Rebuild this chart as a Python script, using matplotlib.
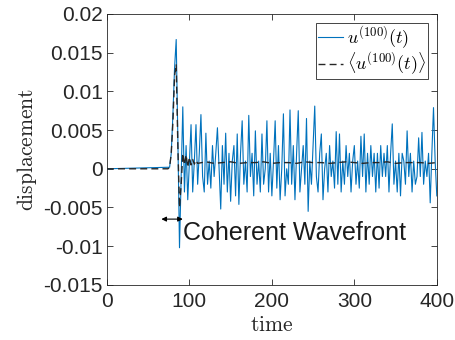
import numpy as np
import matplotlib
matplotlib.use('Agg')
import matplotlib.pyplot as plt
from matplotlib.ticker import FixedLocator, FixedFormatter

plt.rcParams['font.family'] = ['Liberation Sans', 'DejaVu Sans']
plt.rcParams['mathtext.fontset'] = 'cm'

t_u = np.concatenate([[0], np.arange(76, 401, 2)])
u = [0.0,
     0.0002, 0.002, 0.007, 0.013, 0.0167, 0.004, -0.0102, -0.001, 0.008, -0.003,
     0.003, -0.004, 0.001, 0.0057, -0.003, 0.001, 0.0057, -0.002, 0.002, 0.007,
     -0.001, -0.003, 0.0046, -0.002, 0.001, -0.0025, 0.003, -0.001, 0.002, 0.0053,
     0.0, -0.0052, 0.003, -0.002, 0.0046, -0.003, 0.002, -0.0042, 0.001, 0.003,
     -0.0035, 0.0045, -0.0046, 0.002, 0.0062, -0.002, 0.001, -0.003, 0.0069, -0.001,
     0.002, -0.0035, 0.0049, -0.002, 0.001, -0.003, 0.0045, -0.002, 0.0, 0.0062,
     -0.003, 0.002, -0.0035, 0.001, 0.0062, -0.0025, 0.003, -0.004, 0.0, 0.0071,
     -0.0035, 0.0, -0.002, 0.0076, -0.002, 0.003, -0.004, 0.002, 0.0075, -0.003,
     0.0, 0.003, -0.002, 0.0065, -0.0055, 0.001, -0.002, 0.003, 0.0081, -0.001,
     -0.003, 0.002, 0.0045, -0.004, 0.0, 0.002, -0.003, 0.003, -0.001, 0.001,
     -0.0025, 0.0048, -0.002, 0.0045, -0.003, 0.001, -0.002, 0.003, -0.001, 0.002,
     -0.003, 0.001, 0.003, -0.002, 0.001, -0.0025, 0.0042, -0.001, 0.0045, -0.003,
     0.002, -0.002, 0.003, -0.001, 0.002, -0.003, 0.002, -0.0025, 0.003, -0.001,
     0.002, -0.001, 0.003, -0.003, 0.002, 0.0058, -0.002, 0.001, -0.003, 0.002,
     -0.0035, 0.002, 0.001, -0.002, 0.0049, -0.001, 0.002, -0.003, 0.001, -0.002,
     -0.001, 0.004, -0.001, 0.0047, -0.002, 0.001, -0.001, 0.002, -0.0044, 0.002,
     0.0079, 0.001, -0.0035]

# <u^(100)(t)>: mean over realisations
t_mean = np.concatenate([[0], np.arange(74, 111, 2), np.arange(120, 401, 10)])
u_mean = [0.0,
          0.0, 0.0002, 0.002, 0.006, 0.012, 0.0135, 0.003, -0.005, -0.002, 0.002,
          0.0005, 0.0018, 0.0002, 0.0015, 0.0005, 0.0012, 0.0006, 0.0011, 0.0007,
          0.0009, 0.0007, 0.0008, 0.0009, 0.0007, 0.0008, 0.0008, 0.0009, 0.0007, 0.0008,
          0.0008, 0.0007, 0.0009, 0.0008, 0.0008, 0.0007, 0.0008, 0.0009, 0.0008, 0.0007,
          0.0008, 0.0008, 0.0009, 0.0007, 0.0008, 0.0008, 0.0008, 0.0007, 0.0008]

yticks = [0.02, 0.015, 0.01, 0.005, 0, -0.005, -0.01, -0.015]
ytick_labels = ['0.02', '0.015', '0.01', '0.005', '0', '-0.005', '-0.01', '-0.015']
xticks = [0, 100, 200, 300, 400]

fig = plt.figure(figsize=(4.55, 3.4), dpi=100)
ax = fig.add_axes([0.235, 0.162, 0.725, 0.797])

ax.plot(t_u, u, color='#0072BD', lw=0.8, label=r'$u^{(100)}(t)$')
ax.plot(t_mean, u_mean, color='#262626', lw=1.0, ls=(0, (5, 3)),
        label=r'$\langle u^{(100)}(t)\rangle$')

ax.set_xlim(0, 400)
ax.set_ylim(-0.015, 0.02)
ax.xaxis.set_major_locator(FixedLocator(xticks))
ax.yaxis.set_major_locator(FixedLocator(yticks))
ax.yaxis.set_major_formatter(FixedFormatter(ytick_labels))
ax.tick_params(direction='in', top=True, right=True, length=4, width=0.6,
               labelsize=15, colors='#262626')
ax.tick_params(axis='x', pad=5)
ax.tick_params(axis='y', pad=3)
for s in ax.spines.values():
    s.set_color('#262626')
    s.set_linewidth(0.6)

ax.set_xlabel(r'$\mathrm{time}$', fontsize=15.5, color='#262626', labelpad=3)
ax.set_ylabel(r'$\mathrm{displacement}$', fontsize=15.5, color='#262626', labelpad=3)

leg = ax.legend(loc='upper right', bbox_to_anchor=(0.973, 0.968), fontsize=13,
                frameon=True, fancybox=False, edgecolor='#262626', framealpha=1,
                handlelength=1.4, handletextpad=0.2, borderpad=0.1, labelspacing=0.0,
                borderaxespad=0)
leg.get_frame().set_linewidth(0.6)

ax.annotate('', xy=(66, -0.0065), xytext=(92, -0.0065),
            arrowprops=dict(arrowstyle='<|-|>', color='black', lw=0.8,
                            mutation_scale=7, shrinkA=0, shrinkB=0))
ax.text(92, -0.0083, 'Coherent Wavefront', fontsize=18, color='#1a1a1a',
        va='center', ha='left')

fig.savefig('out.png', dpi=100)
